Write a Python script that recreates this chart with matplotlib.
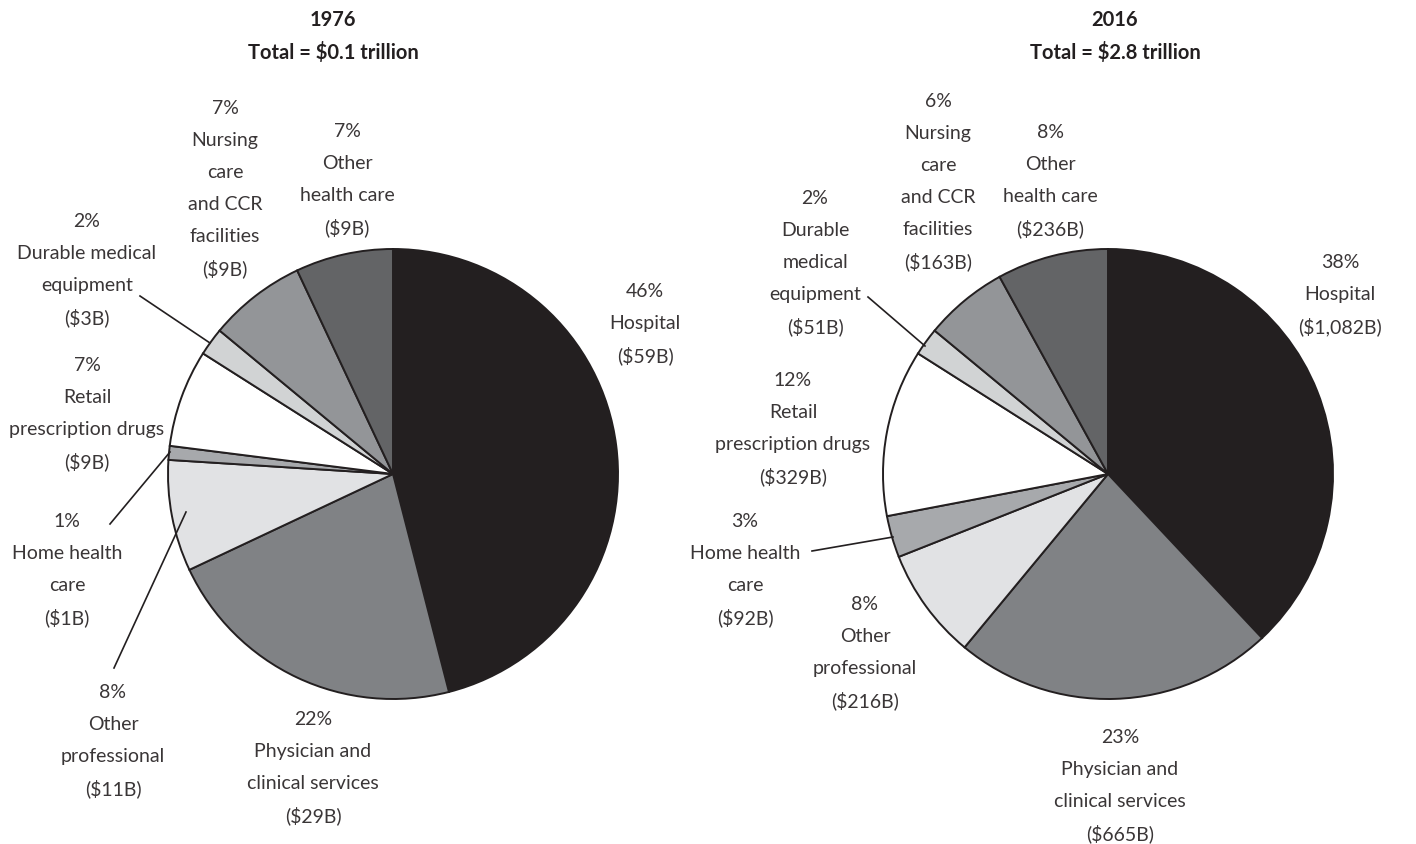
import matplotlib.pyplot as plt

# -----------------------------
# DATA
# -----------------------------
categories = ["Hospital", "Physician and\nclinical services", "Other\nprofessional",
              "Home health\ncare", "Retail\nprescription drugs", "Durable medical\nequipment",
              "Nursing\ncare\nand CCR\nfacilities", "Other\nhealth care"]
pct_1976 = [46, 22, 8, 1, 7, 2, 7, 7]
usd_1976 = ["$59B", "$29B", "$11B", "$1B", "$9B", "$3B", "$9B", "$9B"]
pct_2016 = [38, 23, 8, 3, 12, 2, 6, 8]
usd_2016 = ["$1,082B", "$665B", "$216B", "$92B", "$329B", "$51B", "$163B", "$236B"]
titles = ["1976\nTotal = $0.1 trillion", "2016\nTotal = $2.8 trillion"]

colors = ["#231f20", "#808285", "#e1e2e4", "#a7a9ac", "#ffffff", "#d1d3d4", "#939598", "#636466"]

W, H = 1416, 844

# label positions (pixel coords, y from top) and leader lines
lab_1976 = [(645, 322), (313, 766), (113, 739), (67, 568), (87, 412), (87, 268), (225, 187), (347, 178)]
lab_2016 = [(1340, 293), (1120, 784), (865, 651), (745, 568), (793, 427), (815, 261), (938, 180), (1050, 179)]
cat_2016 = list(categories)
cat_2016[5] = "Durable\nmedical\nequipment"

lead_1976 = [((140, 296), (210, 343)), ((110, 524), (170, 452)), ((114, 668), (186, 512))]
lead_2016 = [((868, 297), (925, 346)), ((812, 551), (893, 537))]

plt.rcParams["font.family"] = ["Lato", "DejaVu Sans"]

fig = plt.figure(figsize=(W / 100, H / 100), dpi=100)
ax = fig.add_axes([0, 0, 1, 1])


def draw(cx, cy, pct, usd, cats, labs, leads, title, tx):
    ax.pie(pct, colors=colors, startangle=90, counterclock=False,
           center=(cx, H - cy), radius=225,
           wedgeprops=dict(edgecolor="#231f20", linewidth=1.4))
    for c, v, u, (x, y) in zip(cats, pct, usd, labs):
        lines = [f"{v}%"] + c.split("\n") + [f"({u})"]
        n = len(lines)
        for i, s in enumerate(lines):
            yy = y + (i - (n - 1) / 2) * 32
            ax.text(x, H - yy, s, ha="center", va="center_baseline",
                    fontsize=14, color="#3a3637")
    for (x0, y0), (x1, y1) in leads:
        ax.plot([x0, x1], [H - y0, H - y1], color="#231f20", lw=1.2)
    for i, s in enumerate(title.split("\n")):
        ax.text(tx, H - (18 + 32 * i), s, ha="center", va="center_baseline",
                fontsize=14.5, fontweight="bold", color="#231f20")


draw(393, 474, pct_1976, usd_1976, categories, lab_1976, lead_1976, titles[0], 333)
draw(1108, 474, pct_2016, usd_2016, cat_2016, lab_2016, lead_2016, titles[1], 1115)

ax.set_xlim(0, W)
ax.set_ylim(0, H)
ax.set_aspect("equal")
ax.axis("off")

plt.savefig("out.png", dpi=100)
plt.close()
